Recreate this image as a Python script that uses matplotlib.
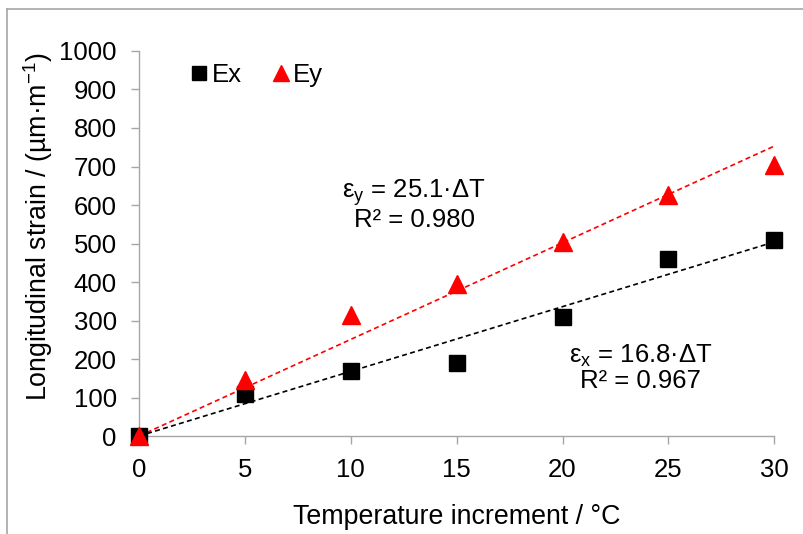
import matplotlib
matplotlib.use("Agg")
import matplotlib.pyplot as plt
from matplotlib.lines import Line2D
import numpy as np

plt.rcParams['font.family'] = ['Liberation Sans', 'DejaVu Sans']
plt.rcParams['mathtext.default'] = 'regular'

temp = [0, 5, 10, 15, 20, 25, 30]
ex = [0, 110, 170, 190, 310, 460, 510]
ey = [0, 145, 315, 395, 505, 625, 705]
slope_x = 16.8
slope_y = 25.1
r2_x = 0.967
r2_y = 0.980
xticks = [0, 5, 10, 15, 20, 25, 30]
yticks = [0, 100, 200, 300, 400, 500, 600, 700, 800, 900, 1000]

FS = 18.5
FSL = 19.3

fig = plt.figure(figsize=(8.04, 5.34), dpi=100)
ax = fig.add_axes([0.173, 0.1835, 0.790, 0.721])

tfit = np.array([0, 30])
ax.plot(tfit, slope_y * tfit, '--', color='red', lw=1.2, dashes=(3, 2), zorder=2)
ax.plot(tfit, slope_x * tfit, '--', color='black', lw=1.2, dashes=(3, 2), zorder=2)
ax.plot(temp, ex, 's', color='black', ms=11, label='Ex', zorder=3, clip_on=False)
ax.plot(temp, ey, '^', color='red', ms=13, label='Ey', zorder=4, clip_on=False)

ax.set_xlim(0, 30)
ax.set_ylim(0, 1000)
ax.set_xticks(xticks)
ax.set_yticks(yticks)
for s in ['top', 'right']:
    ax.spines[s].set_visible(False)
for s in ['left', 'bottom']:
    ax.spines[s].set_color('#a6a6a6')
    ax.spines[s].set_linewidth(1.0)
ax.tick_params(axis='both', colors='#a6a6a6', labelcolor='black', labelsize=FS, length=6, width=1.0)
ax.tick_params(axis='x', pad=10)
ax.tick_params(axis='y', pad=10)

ax.set_xlabel('Temperature increment / °C', fontsize=FSL, labelpad=16)
ax.set_ylabel('Longitudinal strain / (µm·m$^{-1}$)', fontsize=FSL)
ax.yaxis.set_label_coords(-0.133, 0.545)

ax.text(13.0, 600, 'ε$_y$ = %.1f·ΔT\nR² = %.3f' % (slope_y, r2_y), fontsize=FS,
        ha='center', va='center', linespacing=1.0)
ax.text(23.7, 176, 'ε$_x$ = %.1f·ΔT\nR² = %.3f' % (slope_x, r2_x), fontsize=FS,
        ha='center', va='center', linespacing=1.0)

ax.legend(loc='upper left', bbox_to_anchor=(0.05, 1.01), ncol=2, frameon=False, fontsize=FS,
          handletextpad=0.0, columnspacing=1.0, handlelength=1.0, borderaxespad=0.2,
          markerscale=0.9)

# outer chart frame
fig.add_artist(Line2D([7/804, 7/804], [0, 1 - 9/534], transform=fig.transFigure, color='#a6a6a6', lw=1.2))
fig.add_artist(Line2D([7/804, 1], [1 - 9/534, 1 - 9/534], transform=fig.transFigure, color='#a6a6a6', lw=1.2))

fig.savefig('out.png', dpi=100)
